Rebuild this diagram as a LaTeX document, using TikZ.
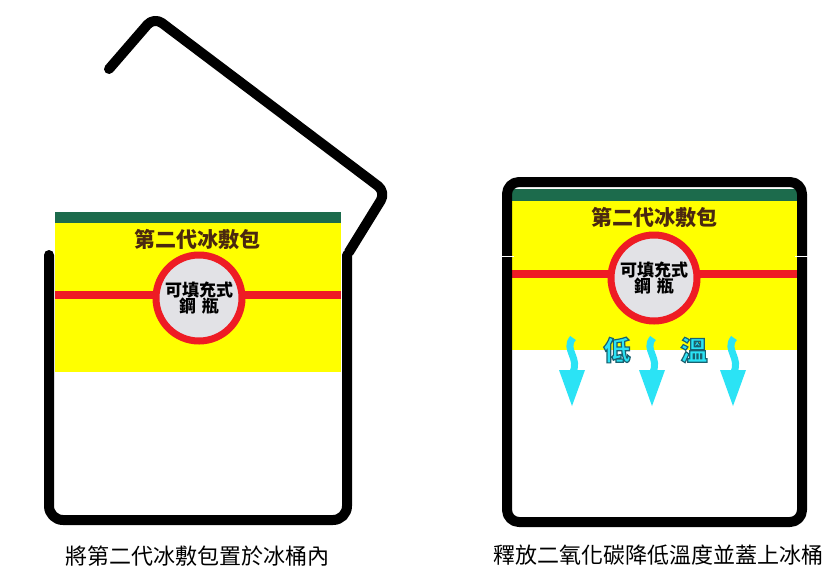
\documentclass[tikz,border=0pt]{standalone}
\usepackage{fontspec}
\newfontfamily\cjk{Noto Sans CJK TC}
\definecolor{packyellow}{HTML}{FFFF00}
\definecolor{packgreen}{HTML}{1C6B4C}
\definecolor{packred}{HTML}{EE1C24}
\definecolor{bottlegray}{HTML}{E2E2E6}
\definecolor{titlebrown}{HTML}{4A2810}
\definecolor{coldcyan}{HTML}{2BE3F5}
\tikzset{
  wall/.style={line width=10pt, black, line cap=round, line join=round},
  bandline/.style={line width=8pt, packred},
  bottle/.style={circle, draw=packred, line width=7pt, fill=bottlegray, minimum size=86pt, inner sep=0pt, align=center, font=\cjk\bfseries\fontsize{17}{19}\selectfont},
  title/.style={font=\cjk\bfseries\fontsize{21}{23}\selectfont, text=titlebrown},
  caption/.style={font=\cjk\fontsize{22}{24}\selectfont},
  coldtxt/.style={font=\cjk\bfseries\fontsize{27}{29}\selectfont, text=coldcyan},
  shaft/.style={line width=7pt, coldcyan},
}
% cyan letters with a dark teal outline (fill + stroke rendering mode)
\newcommand{\outlined}[1]{%
  \special{pdf:literal 2 Tr 1.2 w 0.10 0.38 0.44 RG}#1\special{pdf:literal 0 Tr}}
\newcommand{\coldarrow}[1]{%
  \draw[shaft] (#1+1,338) .. controls (#1-9,350) and (#1+9,358) .. (#1,374);
  \fill[coldcyan] (#1-13,370) -- (#1+13,370) -- (#1,406) -- cycle;
}
\begin{document}
\begin{tikzpicture}[x=1pt,y=-1pt]
\useasboundingbox (0,0) rectangle (832,571);
\fill[white] (0,0) rectangle (832,571);

% ---------- left: pack placed in the bucket ----------
\fill[packyellow] (55,222) rectangle (341,372);
\fill[packgreen] (55,212) rectangle (341,223);
\draw[bandline] (55,295) -- (341,295);
\node[title] (ltitle) at (197,240) {第二代冰敷包};
\node[bottle] (lbottle) at (199,298) {可填充式\\[-3pt]鋼\,\,瓶};

% bucket
\draw[wall, rounded corners=14pt] (49,255) -- (49,520) -- (347,520) -- (347,255);
% lid swinging open
\draw[wall, rounded corners=10pt] (109,69) -- (154,17) -- (386,192) -- (349,252);

\node[caption] (lcap) at (197,556) {將第二代冰敷包置於冰桶內};

% ---------- right: closed bucket releasing cold ----------
\fill[packyellow] (511,201) rectangle (799,350);
\fill[packgreen] (511,189) rectangle (799,201);
\draw[bandline] (511,274) -- (799,274);
\node[title] (rtitle) at (654,218) {第二代冰敷包};
\node[bottle] (rbottle) at (654,278) {可填充式\\[-3pt]鋼\,\,瓶};

\coldarrow{572}
\coldarrow{652}
\coldarrow{733}
\node[coldtxt] (low) at (617,350) {\outlined{低}};
\node[coldtxt] (warm) at (694,350) {\outlined{溫}};

\draw[wall, rounded corners=12pt] (507,182) rectangle (802,522);
\draw[white, line width=1pt] (500,256) -- (514,256) (795,256) -- (809,256);

\node[caption] (rcap) at (658,555) {釋放二氧化碳降低溫度並蓋上冰桶};
\end{tikzpicture}
\end{document}
